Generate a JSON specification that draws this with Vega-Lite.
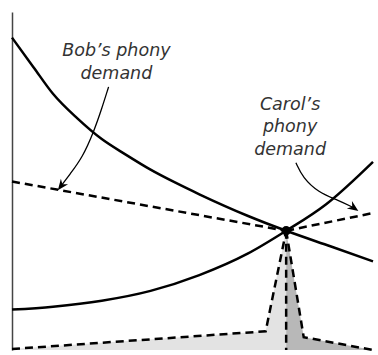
{
  "$schema": "https://vega.github.io/schema/vega-lite/v6.json",
  "width": 378,
  "height": 355,
  "autosize": {"type": "fit", "contains": "padding"},
  "padding": {"left": 7, "top": 12, "right": 0, "bottom": 0},
  "background": "white",
  "config": {"view": {"stroke": null}},
  "datasets": {
    "curves": [
      {"series": "demand", "x": 0, "y": 317},
      {"series": "demand", "x": 22, "y": 287},
      {"series": "demand", "x": 42, "y": 260},
      {"series": "demand", "x": 67, "y": 235},
      {"series": "demand", "x": 92, "y": 214},
      {"series": "demand", "x": 117, "y": 198},
      {"series": "demand", "x": 142, "y": 183},
      {"series": "demand", "x": 167, "y": 170},
      {"series": "demand", "x": 192, "y": 158},
      {"series": "demand", "x": 242, "y": 136},
      {"series": "demand", "x": 281, "y": 121},
      {"series": "demand", "x": 327, "y": 105},
      {"series": "demand", "x": 370, "y": 90},
      {"series": "supply", "x": 0, "y": 41},
      {"series": "supply", "x": 42, "y": 44},
      {"series": "supply", "x": 92, "y": 50},
      {"series": "supply", "x": 142, "y": 60},
      {"series": "supply", "x": 192, "y": 76},
      {"series": "supply", "x": 242, "y": 98},
      {"series": "supply", "x": 281, "y": 121},
      {"series": "supply", "x": 322, "y": 148},
      {"series": "supply", "x": 370, "y": 191}
    ],
    "dashed": [
      {"series": "bob", "order": 1, "x": 0, "y": 171},
      {"series": "bob", "order": 2, "x": 281, "y": 121},
      {"series": "carol", "order": 1, "x": 281, "y": 121},
      {"series": "carol", "order": 2, "x": 370, "y": 139},
      {"series": "left", "order": 1, "x": 0, "y": 1},
      {"series": "left", "order": 2, "x": 260, "y": 19},
      {"series": "left", "order": 3, "x": 281, "y": 121},
      {"series": "mid", "order": 1, "x": 281, "y": 121},
      {"series": "mid", "order": 2, "x": 281, "y": 0},
      {"series": "right", "order": 1, "x": 281, "y": 121},
      {"series": "right", "order": 2, "x": 299, "y": 13},
      {"series": "right", "order": 3, "x": 370, "y": 0}
    ],
    "light": [
      {"x": 0, "y": 1},
      {"x": 260, "y": 19},
      {"x": 281, "y": 121}
    ],
    "dark": [
      {"x": 281, "y": 121},
      {"x": 299, "y": 13},
      {"x": 370, "y": 0}
    ],
    "labels": [
      {"x": 107, "y": 298, "text": "Bob’s phony"},
      {"x": 107, "y": 275, "text": "demand"},
      {"x": 285, "y": 244, "text": "Carol’s"},
      {"x": 285, "y": 221, "text": "phony"},
      {"x": 285, "y": 198, "text": "demand"}
    ],
    "arrows": [
      {"series": "bob", "order": 1, "x": 99, "y": 267},
      {"series": "bob", "order": 2, "x": 92, "y": 245},
      {"series": "bob", "order": 3, "x": 84, "y": 222},
      {"series": "bob", "order": 4, "x": 72, "y": 195},
      {"series": "bob", "order": 5, "x": 59, "y": 178},
      {"series": "bob", "order": 6, "x": 50, "y": 166},
      {"series": "carol", "order": 1, "x": 291, "y": 190},
      {"series": "carol", "order": 2, "x": 298, "y": 175},
      {"series": "carol", "order": 3, "x": 314, "y": 160},
      {"series": "carol", "order": 4, "x": 334, "y": 152},
      {"series": "carol", "order": 5, "x": 351, "y": 144}
    ],
    "heads": [
      {"series": "bob", "x": 47, "y": 162},
      {"series": "carol", "x": 355, "y": 141}
    ],
    "dot": [{"x": 281, "y": 121}]
  },
  "encoding": {
    "x": {"type": "quantitative", "scale": {"domain": [0, 370], "nice": false, "zero": false}, "axis": null},
    "y": {"type": "quantitative", "scale": {"domain": [0, 343], "nice": false, "zero": false}}
  },
  "layer": [
    {
      "data": {"name": "light"},
      "mark": {"type": "area", "color": "#e3e3e3"},
      "encoding": {
        "x": {"field": "x", "type": "quantitative"},
        "y": {"field": "y", "type": "quantitative", "axis": {"title": null, "labels": false, "ticks": false, "grid": false, "domain": true, "domainColor": "#444", "domainWidth": 1.5}}
      }
    },
    {
      "data": {"name": "dark"},
      "mark": {"type": "area", "color": "#b8b8b8"},
      "encoding": {
        "x": {"field": "x", "type": "quantitative"},
        "y": {"field": "y", "type": "quantitative"}
      }
    },
    {
      "data": {"name": "curves"},
      "mark": {"type": "line", "color": "black", "strokeWidth": 2.5, "interpolate": "monotone"},
      "encoding": {
        "x": {"field": "x", "type": "quantitative"},
        "y": {"field": "y", "type": "quantitative"},
        "detail": {"field": "series"}
      }
    },
    {
      "data": {"name": "dashed"},
      "mark": {"type": "line", "color": "black", "strokeWidth": 2.5, "strokeDash": [8, 5]},
      "encoding": {
        "x": {"field": "x", "type": "quantitative"},
        "y": {"field": "y", "type": "quantitative"},
        "detail": {"field": "series"},
        "order": {"field": "order"}
      }
    },
    {
      "data": {"name": "arrows"},
      "mark": {"type": "line", "color": "black", "strokeWidth": 1.3, "interpolate": "basis"},
      "encoding": {
        "x": {"field": "x", "type": "quantitative"},
        "y": {"field": "y", "type": "quantitative"},
        "detail": {"field": "series"},
        "order": {"field": "order"}
      }
    },
    {
      "data": {"name": "heads"},
      "transform": [{"filter": "datum.series === 'bob'"}],
      "mark": {"type": "point", "filled": true, "color": "black", "opacity": 1, "shape": "M0,0L0.45,1.1L0,0.75L-0.45,1.1Z", "size": 400, "angle": 217},
      "encoding": {
        "x": {"field": "x", "type": "quantitative"},
        "y": {"field": "y", "type": "quantitative"}
      }
    },
    {
      "data": {"name": "heads"},
      "transform": [{"filter": "datum.series === 'carol'"}],
      "mark": {"type": "point", "filled": true, "color": "black", "opacity": 1, "shape": "M0,0L0.45,1.1L0,0.75L-0.45,1.1Z", "size": 400, "angle": 125},
      "encoding": {
        "x": {"field": "x", "type": "quantitative"},
        "y": {"field": "y", "type": "quantitative"}
      }
    },
    {
      "data": {"name": "dot"},
      "mark": {"type": "point", "filled": true, "color": "black", "opacity": 1, "size": 90},
      "encoding": {
        "x": {"field": "x", "type": "quantitative"},
        "y": {"field": "y", "type": "quantitative"}
      }
    },
    {
      "data": {"name": "labels"},
      "mark": {"type": "text", "font": "DejaVu Sans", "fontStyle": "italic", "fontSize": 17.5, "color": "#333", "align": "center", "baseline": "alphabetic"},
      "encoding": {
        "x": {"field": "x", "type": "quantitative"},
        "y": {"field": "y", "type": "quantitative"},
        "text": {"field": "text"}
      }
    }
  ]
}
